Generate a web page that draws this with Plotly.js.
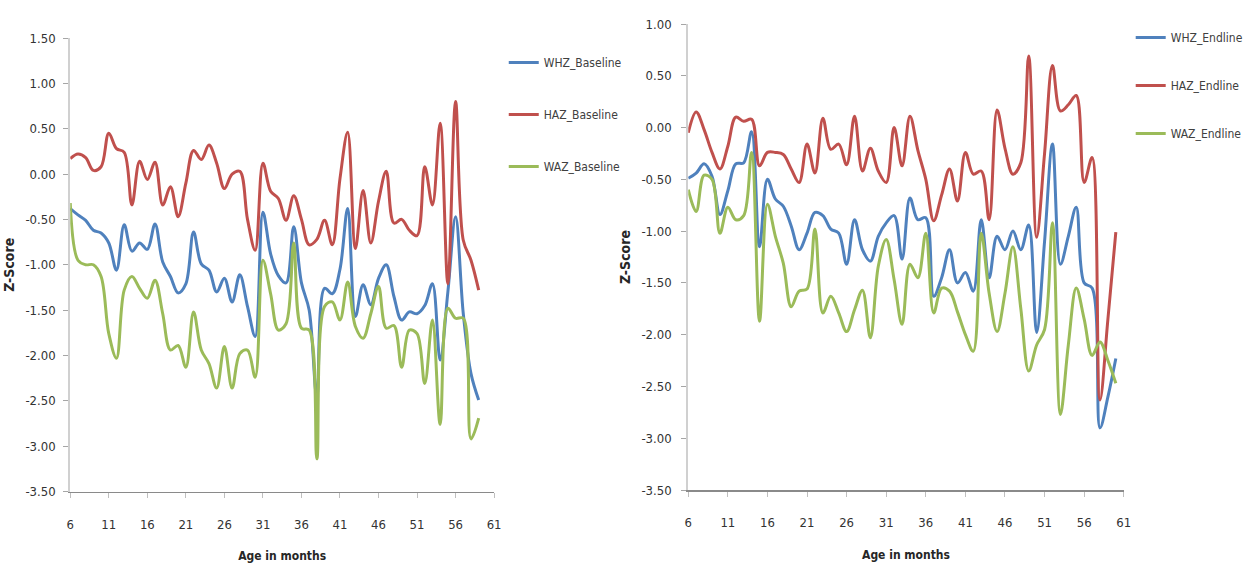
<!DOCTYPE html>
<html>
<head>
<meta charset="utf-8">
<script src="https://cdn.plot.ly/plotly-3.0.1.min.js"></script>
<style>
  html, body { margin: 0; padding: 0; background: #ffffff; }
  #chart { width: 1248px; height: 568px; }
</style>
</head>
<body>
<div id="chart"></div>
<script>
// ---------- DATA ----------
const monthsBaseline = [6,7,8,9,10,11,12,13,14,15,16,17,18,19,20,21,22,23,24,25,26,27,28,29,30,31,32,33,34,35,36,37,38,39,40,41,42,43,44,45,46,47,48,49,50,51,52,53,54,55,56,57,58,59];
const monthsEndline = [6,7,8,9,10,11,12,13,14,15,16,17,18,19,20,21,22,23,24,25,26,27,28,29,30,31,32,33,34,35,36,37,38,39,40,41,42,43,44,45,46,47,48,49,50,51,52,53,54,55,56,57,58,59,60];

const whzBaseline = [-0.38,-0.45,-0.51,-0.62,-0.65,-0.76,-1.06,-0.56,-0.85,-0.76,-0.83,-0.55,-0.97,-1.13,-1.31,-1.21,-0.64,-0.99,-1.06,-1.30,-1.15,-1.41,-1.11,-1.46,-1.79,-0.42,-0.88,-1.12,-1.20,-0.58,-1.20,-1.50,-2.46,-1.26,-1.32,-1.05,-0.38,-1.57,-1.22,-1.44,-1.15,-1.00,-1.35,-1.61,-1.52,-1.54,-1.45,-1.21,-2.05,-1.30,-0.47,-1.54,-2.20,-2.49];
const hazBaseline = [0.17,0.22,0.18,0.04,0.08,0.45,0.28,0.24,-0.34,0.14,-0.06,0.13,-0.34,-0.14,-0.47,-0.10,0.26,0.16,0.32,0.12,-0.16,0.00,0.03,-0.50,-0.84,0.12,-0.19,-0.27,-0.51,-0.24,-0.50,-0.78,-0.72,-0.51,-0.78,-0.05,0.46,-0.82,-0.18,-0.76,-0.30,0.03,-0.54,-0.50,-0.62,-0.68,0.08,-0.34,0.56,-1.21,0.80,-0.73,-0.95,-1.28];
const wazBaseline = [-0.32,-0.95,-1.00,-1.00,-1.13,-1.76,-2.03,-1.28,-1.13,-1.26,-1.37,-1.17,-1.54,-1.94,-1.89,-2.13,-1.52,-1.94,-2.09,-2.36,-1.90,-2.36,-1.98,-1.94,-2.24,-0.95,-1.32,-1.72,-1.65,-0.76,-1.70,-1.72,-3.14,-1.46,-1.41,-1.61,-1.19,-1.68,-1.81,-1.54,-1.24,-1.70,-1.67,-2.13,-1.72,-1.76,-2.31,-1.61,-2.76,-1.48,-1.59,-1.59,-2.92,-2.69];

const whzEndline = [-0.49,-0.44,-0.35,-0.47,-0.84,-0.61,-0.35,-0.34,-0.04,-1.15,-0.50,-0.69,-0.76,-0.95,-1.18,-1.02,-0.82,-0.85,-0.98,-1.02,-1.32,-0.89,-1.18,-1.29,-1.05,-0.92,-0.85,-1.27,-0.68,-0.89,-0.87,-1.63,-1.45,-1.18,-1.50,-1.40,-1.58,-0.89,-1.45,-1.05,-1.18,-1.00,-1.18,-0.94,-1.98,-1.10,-0.16,-1.32,-1.05,-0.77,-1.50,-1.55,-2.90,-2.60,-2.23];
const hazEndline = [-0.05,0.15,-0.02,-0.24,-0.40,-0.18,0.10,0.06,0.08,-0.37,-0.24,-0.24,-0.26,-0.40,-0.53,-0.16,-0.44,0.09,-0.21,-0.16,-0.36,0.11,-0.42,-0.20,-0.42,-0.53,0.00,-0.37,0.11,-0.22,-0.50,-0.90,-0.65,-0.40,-0.71,-0.24,-0.45,-0.42,-0.89,0.17,-0.20,-0.45,-0.34,0.69,-1.06,-0.25,0.60,0.16,0.22,0.31,-0.53,-0.29,-2.63,-1.85,-1.01];
const wazEndline = [-0.60,-0.81,-0.46,-0.50,-1.02,-0.77,-0.89,-0.85,-0.24,-1.87,-0.74,-1.05,-1.31,-1.73,-1.58,-1.56,-0.98,-1.79,-1.63,-1.79,-1.97,-1.76,-1.57,-2.03,-1.34,-1.08,-1.47,-1.90,-1.32,-1.45,-1.02,-1.79,-1.55,-1.58,-1.78,-2.00,-2.16,-1.02,-1.60,-1.97,-1.60,-1.15,-1.75,-2.35,-2.10,-1.95,-0.92,-2.77,-2.10,-1.55,-1.85,-2.20,-2.07,-2.25,-2.47];

const seriesNamesBaseline = ['WHZ_Baseline', 'HAZ_Baseline', 'WAZ_Baseline'];
const seriesNamesEndline = ['WHZ_Endline', 'HAZ_Endline', 'WAZ_Endline'];
const xTitle = 'Age in months';
const yTitle = 'Z-Score';

// Tick labels (Excel style, hyphen minus)
const xTickVals = [6, 11, 16, 21, 26, 31, 36, 41, 46, 51, 56, 61];
const yTickValsBaseline = [-3.5, -3.0, -2.5, -2.0, -1.5, -1.0, -0.5, 0.0, 0.5, 1.0, 1.5];
const yTickTextBaseline = ['-3.50', '-3.00', '-2.50', '-2.00', '-1.50', '-1.00', '-0.50', '0.00', '0.50', '1.00', '1.50'];
const yTickValsEndline = [-3.5, -3.0, -2.5, -2.0, -1.5, -1.0, -0.5, 0.0, 0.5, 1.0];
const yTickTextEndline = ['-3.50', '-3.00', '-2.50', '-2.00', '-1.50', '-1.00', '-0.50', '0.00', '0.50', '1.00'];

// ---------- STYLE ----------
const FONT = '"DejaVu Sans Condensed", "Liberation Sans Narrow", "Arial Narrow", sans-serif';
const COLORS = ['#4F81BD', '#C0504D', '#9BBB59'];
const W = 1248, H = 568;

function line(x, y, name, color, xa, ya, leg, grp) {
  return {
    type: 'scatter', mode: 'lines', x: x, y: y, name: name,
    xaxis: xa, yaxis: ya, legend: leg, legendgroup: grp,
    line: { color: color, width: 3, shape: 'spline', smoothing: 1 },
    hoverinfo: 'x+y+name'
  };
}

const data = [
  line(monthsBaseline, whzBaseline, seriesNamesBaseline[0], COLORS[0], 'x', 'y', 'legend', 'b1'),
  line(monthsBaseline, hazBaseline, seriesNamesBaseline[1], COLORS[1], 'x', 'y', 'legend', 'b2'),
  line(monthsBaseline, wazBaseline, seriesNamesBaseline[2], COLORS[2], 'x', 'y', 'legend', 'b3'),
  line(monthsEndline, whzEndline, seriesNamesEndline[0], COLORS[0], 'x2', 'y2', 'legend2', 'e1'),
  line(monthsEndline, hazEndline, seriesNamesEndline[1], COLORS[1], 'x2', 'y2', 'legend2', 'e2'),
  line(monthsEndline, wazEndline, seriesNamesEndline[2], COLORS[2], 'x2', 'y2', 'legend2', 'e3')
];

function xAxis(domain, anchor) {
  return {
    domain: domain, anchor: anchor, range: [6, 61], tickmode: 'array', tickvals: xTickVals,
    showline: true, linecolor: '#8a8a8a', linewidth: 1.5, mirror: false,
    ticks: 'outside', ticklen: 5, tickwidth: 1, tickcolor: '#bfbfbf',
    showgrid: false, zeroline: false, ticklabelstandoff: 15,
    tickfont: { family: FONT, size: 13, color: '#333333' },
    title: { text: xTitle, font: { family: FONT, size: 12, color: '#262626', weight: 'bold' }, standoff: 21 },
    automargin: false, fixedrange: true
  };
}
function yAxis(domain, anchor, range, vals, text, labelGap) {
  return {
    domain: domain, anchor: anchor, range: range, tickmode: 'array', tickvals: vals, ticktext: text,
    showline: true, linecolor: '#d0d0d0', linewidth: 2, mirror: false,
    ticks: 'outside', ticklen: 5, tickwidth: 1, tickcolor: '#a6a6a6',
    showgrid: false, zeroline: false, ticklabelstandoff: labelGap,
    tickfont: { family: FONT, size: 13, color: '#333333' },
    title: { text: yTitle, font: { family: FONT, size: 14, color: '#262626', weight: 'bold' }, standoff: 7 },
    automargin: false, fixedrange: true
  };
}

const layout = {
  width: W, height: H,
  margin: { l: 0, r: 0, t: 0, b: 0, pad: 0 },
  paper_bgcolor: '#ffffff', plot_bgcolor: '#ffffff',
  font: { family: FONT, size: 12, color: '#404040' },
  showlegend: true,
  xaxis: xAxis([70.7 / W, 497.3 / W], 'y'),
  yaxis: yAxis([76.5 / H, 530 / H], 'x', [-3.5, 1.5], yTickValsBaseline, yTickTextBaseline, 5),
  xaxis2: xAxis([692.7 / W, 1131 / W], 'y2'),
  yaxis2: yAxis([78 / H, 544 / H], 'x2', [-3.5, 1.0], yTickValsEndline, yTickTextEndline, 7),
  legend: {
    x: 507 / W, y: 1 - 48 / H, xanchor: 'left', yanchor: 'top',
    font: { family: FONT, size: 12, color: '#404040' },
    tracegroupgap: 33, bgcolor: 'rgba(0,0,0,0)', borderwidth: 0, itemwidth: 30
  },
  legend2: {
    x: 1138 / W, y: 1 - 23 / H, xanchor: 'left', yanchor: 'top',
    font: { family: FONT, size: 12, color: '#404040' },
    tracegroupgap: 29, bgcolor: 'rgba(0,0,0,0)', borderwidth: 0, itemwidth: 30
  }
};

Plotly.newPlot('chart', data, layout, { displayModeBar: false, staticPlot: true });
</script>
</body>
</html>
